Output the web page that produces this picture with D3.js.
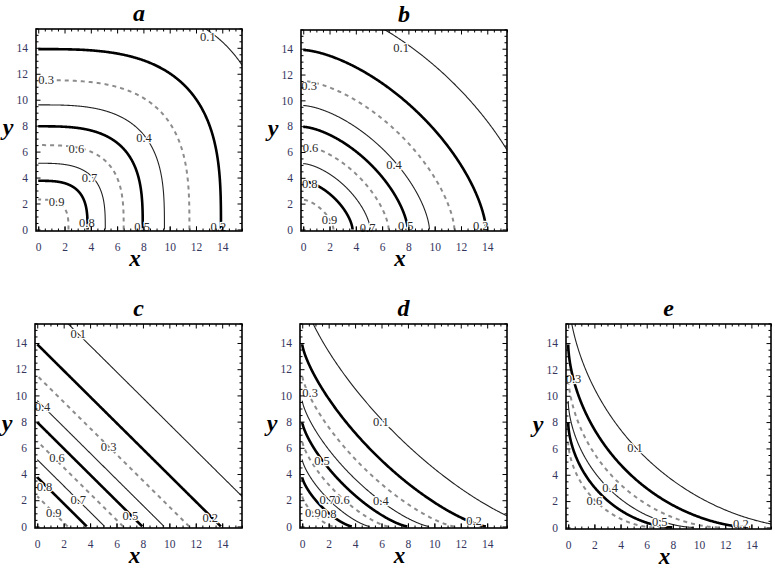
<!DOCTYPE html>
<html>
<head>
<meta charset="utf-8">
<script src="https://cdn.jsdelivr.net/npm/d3@7"></script>
<style>
  body { margin: 0; background: #fff; }
  svg { display: block; }
</style>
</head>
<body>
<svg id="chart" width="775" height="571"></svg>
<script>
// panel names and the contour levels drawn in each
const panels = ['a', 'b', 'c', 'd', 'e'];
const levels = [0.1, 0.2, 0.3, 0.4, 0.5, 0.6, 0.7, 0.8, 0.9];
const levelCounts = [9, 9, 9, 9, 6];
// where each level meets the axes (same for all panels)
const intercepts = [17.8, 13.9, 11.5, 9.6, 7.95, 6.5, 5.1, 3.75, 2.3];
// curvature of the contours in each panel (x^p + y^p = r^p)
const exponents = [3.1, 1.55, 1, 0.75, 0.6];
const tickValues = [0, 2, 4, 6, 8, 10, 12, 14];

// contour label spots [x, y] per panel, in level order
const labelSpots = [
  [[12.9, 14.8], [13.7, 0.2], [0.6, 11.5], [8.05, 7.05], [7.9, 0.2], [2.9, 6.2], [3.9, 4.0], [3.7, 0.5], [1.4, 2.1]],
  [[7.45, 14.05], [13.5, 0.25], [0.45, 11.1], [6.9, 5.0], [7.8, 0.25], [0.55, 6.3], [4.9, 0.1], [0.5, 3.5], [2.0, 0.7]],
  [[3.1, 14.7], [13.1, 0.65], [5.4, 6.1], [0.4, 9.1], [7.05, 0.8], [1.5, 5.2], [3.1, 2.0], [0.55, 3.0], [1.25, 1.05]],
  [[5.95, 7.95], [13.0, 0.45], [0.6, 10.15], [5.95, 1.95], [1.5, 5.0], [3.0, 2.05], [1.9, 2.05], [2.0, 0.95], [0.8, 1.05]],
  [[5.1, 6.0], [13.2, 0.25], [0.4, 11.3], [3.2, 3.0], [7.0, 0.4], [2.0, 2.0]]
];

const frames = [
  { left: 36, top: 29, w: 206, h: 202 },
  { left: 301, top: 30, w: 206, h: 201 },
  { left: 35, top: 324, w: 207, h: 204 },
  { left: 300, top: 324, w: 207, h: 204 },
  { left: 566, top: 324, w: 205, h: 205 }
];

const lineStyles = [
  { stroke: '#222', width: 1.1, dash: null },
  { stroke: '#000', width: 2.6, dash: null },
  { stroke: '#8c8c8c', width: 2, dash: '4,4' }
];

const svg = d3.select('#chart');
const serif = "'Liberation Serif', 'DejaVu Serif', serif";

panels.forEach((name, pi) => {
  const f = frames[pi];
  const g = svg.append('g').attr('transform', `translate(${f.left},${f.top})`);

  const x = d3.scaleLinear().domain([-0.17, 15.5]).range([0, f.w]);
  const y = d3.scaleLinear().domain([-0.12, 15.45]).range([f.h, 0]);

  g.append('clipPath').attr('id', 'clip-' + name)
    .append('rect').attr('width', f.w).attr('height', f.h);

  const p = exponents[pi];
  const line = d3.line().x(d => x(d[0])).y(d => y(d[1]));
  const angles = d3.range(0, 401).map(i => i / 400 * Math.PI / 2);

  const curves = g.append('g').attr('clip-path', `url(#clip-${name})`);
  levels.slice(0, levelCounts[pi]).forEach((lv, li) => {
    const r = intercepts[li];
    const pts = angles.map(t => [
      r * Math.pow(Math.cos(t), 2 / p),
      r * Math.pow(Math.sin(t), 2 / p)
    ]);
    const st = lineStyles[li % 3];
    curves.append('path')
      .datum(pts)
      .attr('fill', 'none')
      .attr('stroke', st.stroke)
      .attr('stroke-width', st.width)
      .attr('stroke-dasharray', st.dash)
      .attr('d', line);
  });

  // contour labels
  labelSpots[pi].forEach((s, li) => {
    g.append('text')
      .attr('x', x(s[0]))
      .attr('y', y(s[1]))
      .attr('text-anchor', 'middle')
      .attr('dominant-baseline', 'central')
      .attr('font-family', serif)
      .attr('font-size', 12.5)
      .attr('fill', '#2a2a2a')
      .attr('stroke', '#fff')
      .attr('stroke-width', 2.5)
      .attr('paint-order', 'stroke')
      .text(levels[li]);
  });

  // frame with inward ticks on all sides
  const minor = d3.range(0, 15.51, 0.5).filter(v => v % 2 !== 0);
  const tickMarks = (axis, vals, len) => axis.tickValues(vals).tickSize(-len).tickFormat('');

  g.append('g').attr('transform', `translate(0,${f.h})`)
    .call(tickMarks(d3.axisBottom(x), minor, 2.5));
  g.append('g').call(tickMarks(d3.axisTop(x), minor, 2.5));
  g.append('g').call(tickMarks(d3.axisLeft(y), minor, 2.5));
  g.append('g').attr('transform', `translate(${f.w},0)`)
    .call(tickMarks(d3.axisRight(y), minor, 2.5));
  g.append('g').attr('transform', `translate(0,${f.h})`)
    .call(tickMarks(d3.axisBottom(x), tickValues, 4.5));
  g.append('g').call(tickMarks(d3.axisTop(x), tickValues, 4.5));
  g.append('g').attr('transform', `translate(${f.w},0)`)
    .call(tickMarks(d3.axisRight(y), tickValues, 4.5));

  const xAxis = g.append('g').attr('transform', `translate(0,${f.h})`)
    .call(d3.axisBottom(x).tickValues(tickValues).tickSize(-4.5).tickPadding(12));
  const yAxis = g.append('g')
    .call(d3.axisLeft(y).tickValues(tickValues).tickSize(-4.5).tickPadding(8));

  [xAxis, yAxis].forEach(a => {
    a.select('.domain').remove();
    a.selectAll('.tick text')
      .attr('font-family', serif)
      .attr('font-size', 11.5)
      .attr('fill', '#34345c');
  });
  g.selectAll('.tick line').attr('stroke', '#000').attr('stroke-width', 1);
  g.selectAll('.domain').remove();

  g.append('rect')
    .attr('width', f.w).attr('height', f.h)
    .attr('fill', 'none').attr('stroke', '#000').attr('stroke-width', 1.6);

  // panel title and axis names
  g.append('text')
    .attr('x', f.w / 2).attr('y', -8)
    .attr('text-anchor', 'middle')
    .attr('font-family', serif).attr('font-weight', 'bold').attr('font-style', 'italic')
    .attr('font-size', 24)
    .text(name);
  g.append('text')
    .attr('x', f.w / 2 - 4).attr('y', f.h + 35)
    .attr('text-anchor', 'middle')
    .attr('font-family', serif).attr('font-weight', 'bold').attr('font-style', 'italic')
    .attr('font-size', 23)
    .text('x');
  g.append('text')
    .attr('x', -28).attr('y', f.h / 2 + 5)
    .attr('text-anchor', 'middle')
    .attr('font-family', serif).attr('font-weight', 'bold').attr('font-style', 'italic')
    .attr('font-size', 24)
    .text('y');
});
</script>
</body>
</html>
